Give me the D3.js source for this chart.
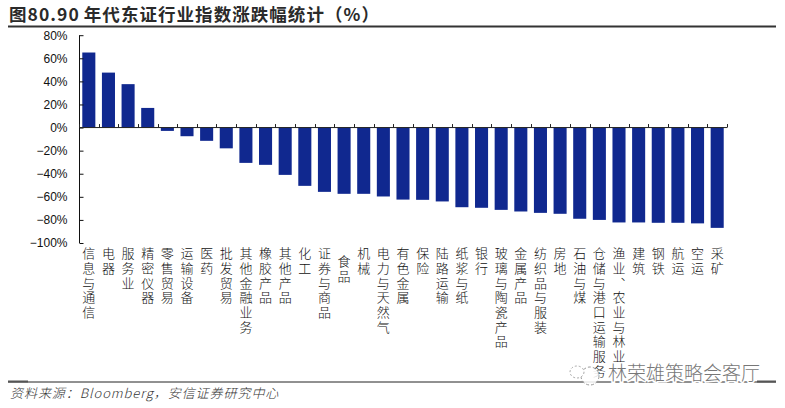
<!DOCTYPE html>
<html><head><meta charset="utf-8">
<script src="https://cdnjs.cloudflare.com/ajax/libs/d3/7.8.5/d3.min.js"></script>
<style>html,body{margin:0;padding:0;background:#fff}svg{display:block}</style>
</head><body><div id="c"></div>
<script>
const categories=["信息与通信","电器","服务业","精密仪器","零售贸易","运输设备","医药","批发贸易","其他金融业务","橡胶产品","其他产品","化工","证券与商品","食品","机械","电力与天然气","有色金属","保险","陆路运输","纸浆与纸","银行","玻璃与陶瓷产品","金属产品","纺织品与服装","房地","石油与煤","仓储与港口运输服务","渔业、农业与林业","建筑","钢铁","航运","空运","采矿"];
const values=[65,47.6,37.6,17,-2.9,-7.5,-11.5,-18,-30.6,-32.3,-41,-50.5,-55.7,-57.4,-57.4,-59.7,-62.4,-62.6,-64,-69,-69.5,-71.3,-72.7,-73.9,-74.7,-79,-80,-82.2,-82.2,-82.5,-82.5,-83,-86.9];
const tickValues=[80,60,40,20,0,-20,-40,-60,-80,-100];
const titleText="图80.90 年代东证行业指数涨跌幅统计（%）";
const sourceText="资料来源：Bloomberg，安信证券研究中心";
const watermark="林荣雄策略会客厅";

const W=785,H=408,cjk='"Noto Sans CJK SC","Noto Sans",sans-serif';
const svg=d3.select("#c").append("svg").attr("width",W).attr("height",H);
const x=d3.scaleBand().domain(categories).range([79,727]).paddingInner(0.335).paddingOuter(0.1675);
const y=d3.scaleLinear().domain([-100,80]).range([243,35.2]);

svg.append("text").attr("x",9).attr("y",21).attr("font-family",cjk).attr("font-weight",700).attr("font-size",17.5).attr("letter-spacing",1.05).attr("word-spacing",-1).attr("fill","#2a2a2a").text(titleText);
svg.append("line").attr("x1",8).attr("x2",776).attr("y1",26.5).attr("y2",26.5).attr("stroke","#333").attr("stroke-width",2);

svg.append("g").selectAll("rect").data(values).join("rect")
 .attr("x",(d,i)=>x(categories[i])).attr("width",x.bandwidth())
 .attr("y",d=>y(Math.max(d,0))).attr("height",d=>Math.abs(y(d)-y(0)))
 .attr("fill","#10288f");

const yAxis=svg.append("g").attr("transform","translate(79.5,0)")
 .call(d3.axisLeft(y).tickValues(tickValues).tickSize(-4).tickPadding(12).tickFormat(d=>(d<0?"−":"")+Math.abs(d)+"%"));
yAxis.select(".domain").attr("stroke","#111").attr("d",`M0,${y(80)}V${y(-100)}`);
yAxis.selectAll("line").attr("stroke","#111");
yAxis.selectAll("text").attr("font-family",'"Liberation Sans",Arial,sans-serif').attr("font-size",12).attr("fill","#111").attr("x",-12);

const step=x.step();
const edges=d3.range(categories.length+1).map(i=>x.range()[0]+i*step);
const xAxis=svg.append("g");
xAxis.append("line").attr("x1",79).attr("x2",727).attr("y1",y(0)).attr("y2",y(0)).attr("stroke","#222").attr("stroke-width",1);
xAxis.selectAll("line.t").data(edges).join("line").attr("class","t")
 .attr("x1",d=>Math.round(d)+.5).attr("x2",d=>Math.round(d)+.5).attr("y1",y(0)-3.5).attr("y2",y(0)).attr("stroke","#222");

svg.append("g").selectAll("text").data(categories).join("text")
 .attr("font-family",cjk).attr("font-weight",300).attr("font-size",13).attr("letter-spacing",1.65).attr("fill","#111")
 .style("writing-mode","vertical-rl").style("text-orientation","upright")
 .attr("x",c=>x(c)+x.bandwidth()/2).attr("y",c=>c==="食品"?255:247).text(c=>c);

svg.append("line").attr("x1",8).attr("x2",776).attr("y1",382).attr("y2",382).attr("stroke","#222").attr("stroke-width",1);
svg.append("line").attr("x1",8).attr("x2",28).attr("y1",381.5).attr("y2",381.5).attr("stroke","#555").attr("stroke-width",2);
svg.append("line").attr("x1",757).attr("x2",776).attr("y1",381.5).attr("y2",381.5).attr("stroke","#555").attr("stroke-width",2);
svg.append("text").attr("x",10).attr("y",398).attr("font-family",cjk).attr("font-style","italic").attr("font-weight",300).attr("font-size",13).attr("letter-spacing",0.95).attr("fill","#333").text(sourceText);

const wm=svg.append("g");
wm.append("circle").attr("cx",590).attr("cy",376).attr("r",9).attr("fill","#fff").attr("fill-opacity",.85).attr("stroke","#999").attr("stroke-dasharray","3 2");
wm.append("ellipse").attr("cx",577).attr("cy",372).attr("rx",7).attr("ry",6).attr("fill","#fff").attr("stroke","#aaa").attr("stroke-dasharray","2 2");
wm.append("text").attr("x",608).attr("y",380).attr("font-family",cjk).attr("font-size",19).attr("font-weight",300).attr("fill","#777").attr("stroke","#fff").attr("stroke-width",3).attr("paint-order","stroke").text(watermark);
</script></body></html>
